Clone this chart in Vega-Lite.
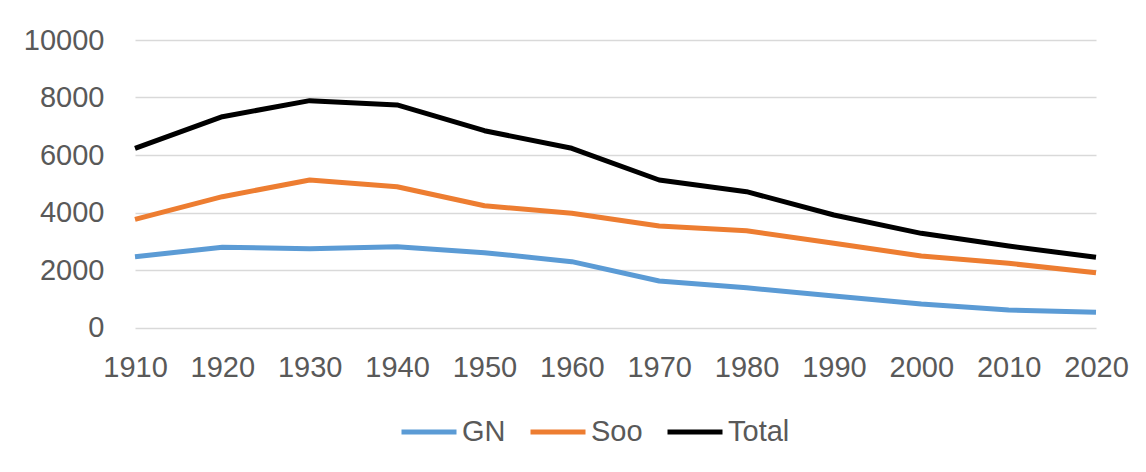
{
  "$schema": "https://vega.github.io/schema/vega-lite/v6.json",
  "autosize": "none",
  "width": 961,
  "height": 287.5,
  "padding": {"left": 135, "top": 40, "right": 50, "bottom": 144.5},
  "background": "white",
  "config": {
    "view": {"stroke": null},
    "font": "Liberation Sans"
  },
  "data": {
    "values": [
      {"year": "1910", "series": "GN", "value": 2464},
      {"year": "1920", "series": "GN", "value": 2789},
      {"year": "1930", "series": "GN", "value": 2742},
      {"year": "1940", "series": "GN", "value": 2811},
      {"year": "1950", "series": "GN", "value": 2603},
      {"year": "1960", "series": "GN", "value": 2290},
      {"year": "1970", "series": "GN", "value": 1617},
      {"year": "1980", "series": "GN", "value": 1380},
      {"year": "1990", "series": "GN", "value": 1096},
      {"year": "2000", "series": "GN", "value": 817},
      {"year": "2010", "series": "GN", "value": 609},
      {"year": "2020", "series": "GN", "value": 529},
      {"year": "1910", "series": "Soo", "value": 3763},
      {"year": "1920", "series": "Soo", "value": 4550},
      {"year": "1930", "series": "Soo", "value": 5130},
      {"year": "1940", "series": "Soo", "value": 4898},
      {"year": "1950", "series": "Soo", "value": 4237},
      {"year": "1960", "series": "Soo", "value": 3971},
      {"year": "1970", "series": "Soo", "value": 3530},
      {"year": "1980", "series": "Soo", "value": 3368},
      {"year": "1990", "series": "Soo", "value": 2928},
      {"year": "2000", "series": "Soo", "value": 2487},
      {"year": "2010", "series": "Soo", "value": 2232},
      {"year": "2020", "series": "Soo", "value": 1907},
      {"year": "1910", "series": "Total", "value": 6233},
      {"year": "1920", "series": "Total", "value": 7333},
      {"year": "1930", "series": "Total", "value": 7890},
      {"year": "1940", "series": "Total", "value": 7740},
      {"year": "1950", "series": "Total", "value": 6845},
      {"year": "1960", "series": "Total", "value": 6233},
      {"year": "1970", "series": "Total", "value": 5130},
      {"year": "1980", "series": "Total", "value": 4725},
      {"year": "1990", "series": "Total", "value": 3913},
      {"year": "2000", "series": "Total", "value": 3275},
      {"year": "2010", "series": "Total", "value": 2835},
      {"year": "2020", "series": "Total", "value": 2441}
    ]
  },
  "mark": {"type": "line", "strokeWidth": 5, "strokeJoin": "round", "strokeCap": "butt"},
  "encoding": {
    "x": {
      "field": "year",
      "type": "ordinal",
      "scale": {"type": "point", "padding": 0},
      "axis": {
        "title": null,
        "labelAngle": 0,
        "labelFontSize": 29,
        "labelColor": "#595959",
        "labelPadding": 26,
        "domain": false,
        "ticks": false,
        "grid": false
      }
    },
    "y": {
      "field": "value",
      "type": "quantitative",
      "scale": {"domain": [0, 10000]},
      "axis": {
        "title": null,
        "values": [0, 2000, 4000, 6000, 8000, 10000],
        "format": "d",
        "labelFontSize": 29,
        "labelColor": "#595959",
        "labelPadding": 31,
        "domain": false,
        "ticks": false,
        "grid": true,
        "gridColor": "#D9D9D9",
        "gridWidth": 1.5
      }
    },
    "color": {
      "field": "series",
      "type": "nominal",
      "scale": {"domain": ["GN", "Soo", "Total"], "range": ["#5B9BD5", "#ED7D31", "#000000"]},
      "legend": {
        "title": null,
        "orient": "none",
        "direction": "horizontal",
        "legendX": 264,
        "legendY": 362,
        "symbolType": "stroke",
        "symbolSize": 3025,
        "symbolStrokeWidth": 5,
        "labelFontSize": 29,
        "labelColor": "#595959",
        "labelOffset": 3,
        "columnPadding": 14
      }
    }
  }
}
